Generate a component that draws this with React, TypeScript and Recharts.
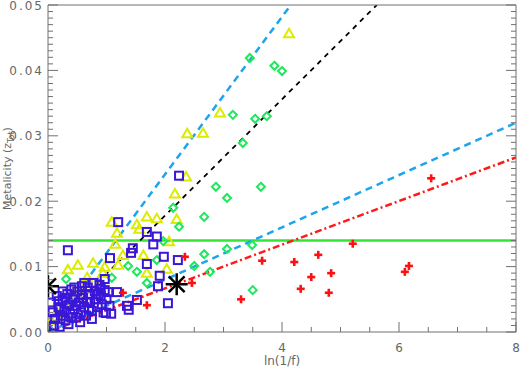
import React from "react";
import { ComposedChart, Scatter, Line, XAxis, YAxis } from "recharts";

const AXIS = "#707070";
const TEXT = "#666666";
const FONT = "'DejaVu Sans', sans-serif";
const PLOT_LEFT = 48;

// tick values
const xTicks = [0, 0.5, 1, 1.5, 2, 2.5, 3, 3.5, 4, 4.5, 5, 5.5, 6, 6.5, 7, 7.5, 8];
const xMajor = [0, 2, 4, 6, 8];
const yTicks = [
  0, 0.001, 0.002, 0.003, 0.004, 0.005, 0.006, 0.007, 0.008, 0.009,
  0.01, 0.011, 0.012, 0.013, 0.014, 0.015, 0.016, 0.017, 0.018, 0.019,
  0.02, 0.021, 0.022, 0.023, 0.024, 0.025, 0.026, 0.027, 0.028, 0.029,
  0.03, 0.031, 0.032, 0.033, 0.034, 0.035, 0.036, 0.037, 0.038, 0.039,
  0.04, 0.041, 0.042, 0.043, 0.044, 0.045, 0.046, 0.047, 0.048, 0.049, 0.05,
];
const yMajor = [0, 0.01, 0.02, 0.03, 0.04, 0.05];

// points: [ln(1/f), Z]
const trianglePts = [
  [0.05, 0.0018], [0.22, 0.0022], [0.15, 0.003], [0.3, 0.004], [0.55, 0.0045],
  [0.45, 0.0058], [0.6, 0.0065], [0.85, 0.007], [0.34, 0.0095], [0.51, 0.0102],
  [0.67, 0.0083], [0.77, 0.0105], [0.94, 0.009], [0.97, 0.0099], [1.09, 0.0168],
  [1.15, 0.0134], [1.18, 0.0151], [1.2, 0.0102], [1.28, 0.0117], [1.52, 0.0164],
  [1.56, 0.0157], [1.63, 0.0117], [1.69, 0.0176], [1.69, 0.009], [1.86, 0.0173],
  [2.03, 0.0096], [2.07, 0.0138], [2.17, 0.0211], [2.2, 0.0172], [2.36, 0.0237],
  [2.38, 0.0303], [2.65, 0.0304], [2.94, 0.0335], [4.12, 0.0456],
];

const diamondPts = [
  [0.31, 0.0081], [1.09, 0.0083], [1.37, 0.0101], [1.52, 0.0092], [1.69, 0.0075],
  [1.86, 0.011], [1.97, 0.0139], [2.14, 0.019], [2.24, 0.0161], [2.5, 0.0101],
  [2.67, 0.0176], [2.67, 0.0119], [2.77, 0.0092], [2.87, 0.0222], [3.06, 0.0205],
  [3.06, 0.0127], [3.16, 0.0332], [3.33, 0.0289], [3.45, 0.0419], [3.49, 0.0133],
  [3.5, 0.0064], [3.54, 0.0326], [3.64, 0.0222], [3.74, 0.033], [3.87, 0.0407],
  [4.0, 0.0399],
];

const squarePts = [
  [0.05, 0.0045], [0.08, 0.003], [0.12, 0.002], [0.15, 0.0055], [0.18, 0.0038],
  [0.22, 0.0025], [0.25, 0.0048], [0.28, 0.0032], [0.3, 0.0018], [0.33, 0.0058],
  [0.36, 0.0042], [0.38, 0.0028], [0.42, 0.005], [0.45, 0.0035], [0.48, 0.0022],
  [0.5, 0.0062], [0.53, 0.0045], [0.56, 0.003], [0.58, 0.007], [0.6, 0.0052],
  [0.62, 0.0038], [0.65, 0.0025], [0.68, 0.0068], [0.7, 0.0058], [0.72, 0.0045],
  [0.75, 0.0032], [0.78, 0.0075], [0.8, 0.0062], [0.82, 0.005], [0.85, 0.0038],
  [0.88, 0.0072], [0.9, 0.0055], [0.92, 0.0042], [0.95, 0.003], [0.97, 0.0081],
  [0.97, 0.0064], [1.0, 0.005], [1.03, 0.0061], [1.05, 0.004], [1.08, 0.0028],
  [0.4, 0.0065], [0.25, 0.0062], [0.1, 0.001], [0.2, 0.0008], [0.35, 0.0012],
  [0.55, 0.0015], [0.75, 0.002], [0.62, 0.0075], [0.99, 0.0029], [0.45, 0.0068],
  [0.18, 0.0047], [0.3, 0.0052], [0.48, 0.004], [0.66, 0.0046], [0.86, 0.0058],
  [0.2, 0.0035], [0.4, 0.0022], [0.7, 0.0035], [0.9, 0.0066], [0.58, 0.0056],
  [0.34, 0.0125], [1.06, 0.0113], [1.18, 0.0061], [1.2, 0.0168], [1.35, 0.004],
  [1.38, 0.0034], [1.42, 0.0121], [1.45, 0.0128], [1.52, 0.0049], [1.69, 0.0104],
  [1.69, 0.0153], [1.8, 0.0134], [1.86, 0.0146], [1.88, 0.007], [1.91, 0.0086],
  [1.98, 0.0115], [2.05, 0.0044], [2.22, 0.011], [2.24, 0.0239],
];

const plusPts = [
  [1.28, 0.006], [1.69, 0.0041], [2.34, 0.0115], [2.46, 0.0075], [3.3, 0.005],
  [3.66, 0.0109], [4.21, 0.0107], [4.32, 0.0066], [4.5, 0.0084], [4.62, 0.0118],
  [4.8, 0.006], [4.84, 0.009], [5.21, 0.0135], [6.1, 0.0092], [6.17, 0.0101],
  [6.55, 0.0235],
];

const starPts = [[0, 0.007], [2.2, 0.0073]];

// model lines, end points
const solarLine = [[0, 0.014], [8, 0.014]];
const redLine = [[0, 0], [8, 0.0267]];
const blueLow = [[0, 0], [8, 0.032]];
const blueHigh = [[0, 0], [4.15, 0.05]];
const blackLine = [[0, 0], [5.62, 0.05]];

const toXY = (pts: number[][]) => pts.map(([x, y]) => ({ x, y }));

const isMajor = (v: number, list: number[]) => list.some((m) => Math.abs(m - v) < 1e-9);

// markers
const Square = (p: any) => (
  <rect x={p.cx - 4} y={p.cy - 4} width={8} height={8} fill="none" stroke="#3a16d8" strokeWidth={2} />
);
const Triangle = (p: any) => (
  <polygon
    points={`${p.cx},${p.cy - 5} ${p.cx - 5},${p.cy + 3.5} ${p.cx + 5},${p.cy + 3.5}`}
    fill="none"
    stroke="#dcec00"
    strokeWidth={2}
  />
);
const Diamond = (p: any) => (
  <polygon
    points={`${p.cx},${p.cy - 4} ${p.cx + 4},${p.cy} ${p.cx},${p.cy + 4} ${p.cx - 4},${p.cy}`}
    fill="none"
    stroke="#1ee85c"
    strokeWidth={2}
  />
);
const Plus = (p: any) => (
  <g stroke="#ff1010" strokeWidth={2.6}>
    <line x1={p.cx - 4} y1={p.cy} x2={p.cx + 4} y2={p.cy} />
    <line x1={p.cx} y1={p.cy - 4} x2={p.cx} y2={p.cy + 4} />
  </g>
);

// asterisk; arms are cut at the left frame
const Star = (p: any) => {
  const cx = Number(p.cx);
  const cy = Number(p.cy);
  const r = 11;
  const d = r * 0.72;
  const edge = cx <= PLOT_LEFT + 1;
  const l = edge ? 0 : 1;
  return (
    <g stroke="#000" strokeWidth={2.5}>
      <line x1={cx - r * l} y1={cy} x2={cx + r} y2={cy} />
      <line x1={cx} y1={cy - r} x2={cx} y2={cy + r} />
      <line x1={cx - d * l} y1={cy - d * l} x2={cx + d} y2={cy + d} />
      <line x1={cx - d * l} y1={cy + d * l} x2={cx + d} y2={cy - d} />
    </g>
  );
};

// ticks drawn inward
const BottomTick = (p: any) => {
  const v = p.payload.value;
  const major = isMajor(v, xMajor);
  return (
    <g>
      <line x1={p.x} y1={p.y} x2={p.x} y2={p.y - (major ? 10 : 5)} stroke={AXIS} />
      {major && (
        <text x={p.x} y={p.y + 20} textAnchor="middle" fill={TEXT} fontSize={12} fontFamily={FONT}>
          {String(v)}
        </text>
      )}
    </g>
  );
};
const TopTick = (p: any) => {
  const major = isMajor(p.payload.value, xMajor);
  return <line x1={p.x} y1={p.y} x2={p.x} y2={p.y + (major ? 10 : 5)} stroke={AXIS} />;
};
const LeftTick = (p: any) => {
  const v = p.payload.value;
  const major = isMajor(v, yMajor);
  return (
    <g>
      <line x1={p.x} y1={p.y} x2={p.x + (major ? 10 : 5)} y2={p.y} stroke={AXIS} />
      {major && (
        <text x={p.x - 4} y={p.y + 4.5} textAnchor="end" fill={TEXT} fontSize={12} fontFamily={FONT} letterSpacing={2}>
          {v.toFixed(2)}
        </text>
      )}
    </g>
  );
};
const RightTick = (p: any) => {
  const major = isMajor(p.payload.value, yMajor);
  return <line x1={p.x} y1={p.y} x2={p.x - (major ? 10 : 5)} y2={p.y} stroke={AXIS} />;
};

const YLabel = (props: any) => {
  const vb = props.viewBox || { y: 5, height: 327 };
  const cy = vb.y + vb.height / 2;
  return (
    <text
      x={11}
      y={cy}
      transform={`rotate(-90, 11, ${cy})`}
      textAnchor="middle"
      fill={TEXT}
      fontSize={11}
      fontFamily={FONT}
    >
      Metalicity (z
      <tspan fontSize={8} dy={3}>
        Tot
      </tspan>
      <tspan dy={-3}>)</tspan>
    </text>
  );
};

export default function App() {
  return (
    <div style={{ position: "absolute", left: 0, top: 0, background: "#fff" }}>
      <ComposedChart width={521} height={369} margin={{ top: 0, right: 0, bottom: 0, left: 0 }}>
        <XAxis
          xAxisId="main"
          type="number"
          dataKey="x"
          domain={[0, 8]}
          allowDataOverflow
          ticks={xTicks}
          interval={0}
          height={37}
          tickSize={0}
          tickMargin={0}
          tickLine={false}
          axisLine={{ stroke: AXIS }}
          tick={BottomTick}
          label={{ value: "ln(1/f)", position: "insideBottom", offset: 4, fill: TEXT, fontSize: 12, fontFamily: FONT }}
        />
        <XAxis
          xAxisId="top"
          orientation="top"
          type="number"
          domain={[0, 8]}
          allowDataOverflow
          ticks={xTicks}
          interval={0}
          height={5}
          tickSize={0}
          tickMargin={0}
          tickLine={false}
          axisLine={{ stroke: AXIS }}
          tick={TopTick}
        />
        <YAxis
          yAxisId="main"
          type="number"
          dataKey="y"
          domain={[0, 0.05]}
          allowDataOverflow
          ticks={yTicks}
          interval={0}
          width={PLOT_LEFT}
          tickSize={0}
          tickMargin={0}
          tickLine={false}
          axisLine={{ stroke: AXIS }}
          tick={LeftTick}
          label={<YLabel />}
        />
        <YAxis
          yAxisId="right"
          orientation="right"
          type="number"
          domain={[0, 0.05]}
          allowDataOverflow
          ticks={yTicks}
          interval={0}
          width={5}
          tickSize={0}
          tickMargin={0}
          tickLine={false}
          axisLine={{ stroke: AXIS }}
          tick={RightTick}
        />

        <Scatter xAxisId="main" yAxisId="main" data={toXY(trianglePts)} shape={Triangle} isAnimationActive={false} />
        <Scatter xAxisId="main" yAxisId="main" data={toXY(diamondPts)} shape={Diamond} isAnimationActive={false} />
        <Scatter xAxisId="main" yAxisId="main" data={toXY(squarePts)} shape={Square} isAnimationActive={false} />
        <Scatter xAxisId="main" yAxisId="main" data={toXY(plusPts)} shape={Plus} isAnimationActive={false} />

        <Line xAxisId="main" yAxisId="main" data={toXY(solarLine)} dataKey="y" stroke="#33e633" strokeWidth={2.5} dot={false} activeDot={false} isAnimationActive={false} />
        <Line xAxisId="main" yAxisId="main" data={toXY(redLine)} dataKey="y" stroke="#ff1a1a" strokeWidth={2.5} strokeDasharray="7 3 2 3" dot={false} activeDot={false} isAnimationActive={false} />
        <Line xAxisId="main" yAxisId="main" data={toXY(blueLow)} dataKey="y" stroke="#1ca4ee" strokeWidth={2.5} strokeDasharray="7 5" dot={false} activeDot={false} isAnimationActive={false} />
        <Line xAxisId="main" yAxisId="main" data={toXY(blueHigh)} dataKey="y" stroke="#1ca4ee" strokeWidth={2.5} strokeDasharray="7 5" dot={false} activeDot={false} isAnimationActive={false} />
        <Line xAxisId="main" yAxisId="main" data={toXY(blackLine)} dataKey="y" stroke="#000" strokeWidth={1.8} strokeDasharray="5 5" dot={false} activeDot={false} isAnimationActive={false} />

        <Scatter xAxisId="main" yAxisId="main" data={toXY(starPts)} shape={Star} isAnimationActive={false} />
      </ComposedChart>
    </div>
  );
}
